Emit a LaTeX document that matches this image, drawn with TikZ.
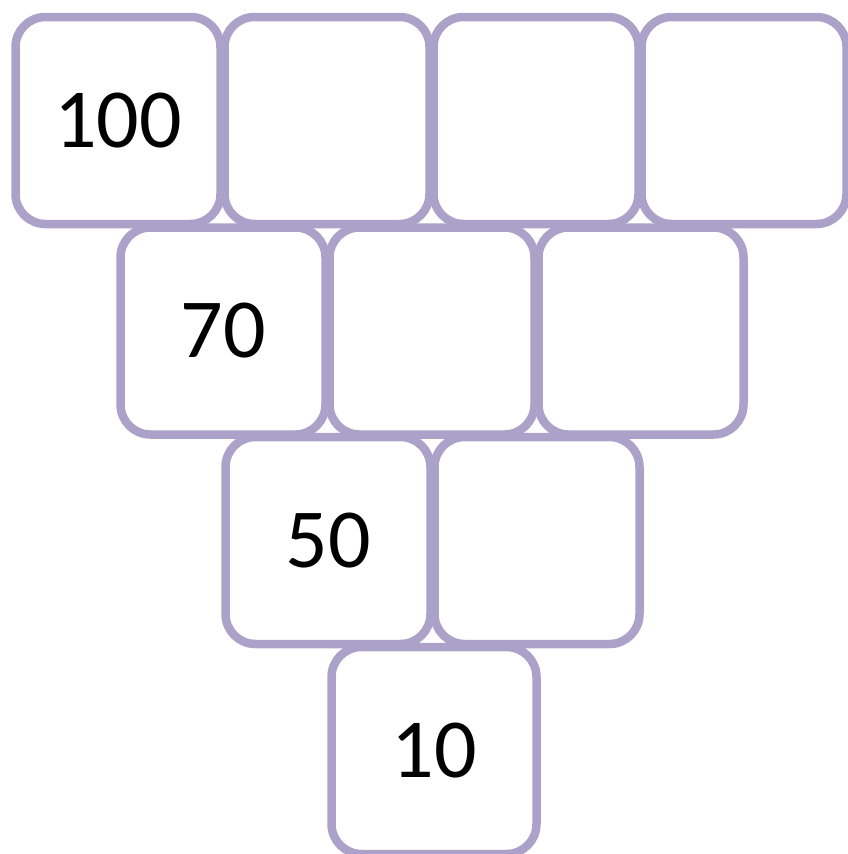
\documentclass[tikz,border=0pt]{standalone}
\usepackage{fontspec}
\setmainfont{Carlito}
\definecolor{boxc}{RGB}{172,162,201}
\begin{document}
\begin{tikzpicture}[x=1pt,y=-1pt,
  box/.style={draw=boxc, line width=8.5pt, rounded corners=30pt,
    minimum width=205pt, minimum height=207pt, inner sep=0pt,
    font=\fontsize{84}{84}\selectfont}]
\useasboundingbox (0,0) rectangle (847,854);
% row 1
\node[box] (a1) at (118,120.5) {100};
\node[box] (a2) at (327,120.5) {};
\node[box] (a3) at (536,120.5) {};
\node[box] (a4) at (744,120.5) {};
% row 2
\node[box] (b1) at (223,331) {70};
\node[box] (b2) at (432,331) {};
\node[box] (b3) at (641,331) {};
% row 3
\node[box] (c1) at (328,540.5) {50};
\node[box] (c2) at (537,540.5) {};
% row 4
\node[box] (d1) at (434,750.5) {10};
\end{tikzpicture}
\end{document}
